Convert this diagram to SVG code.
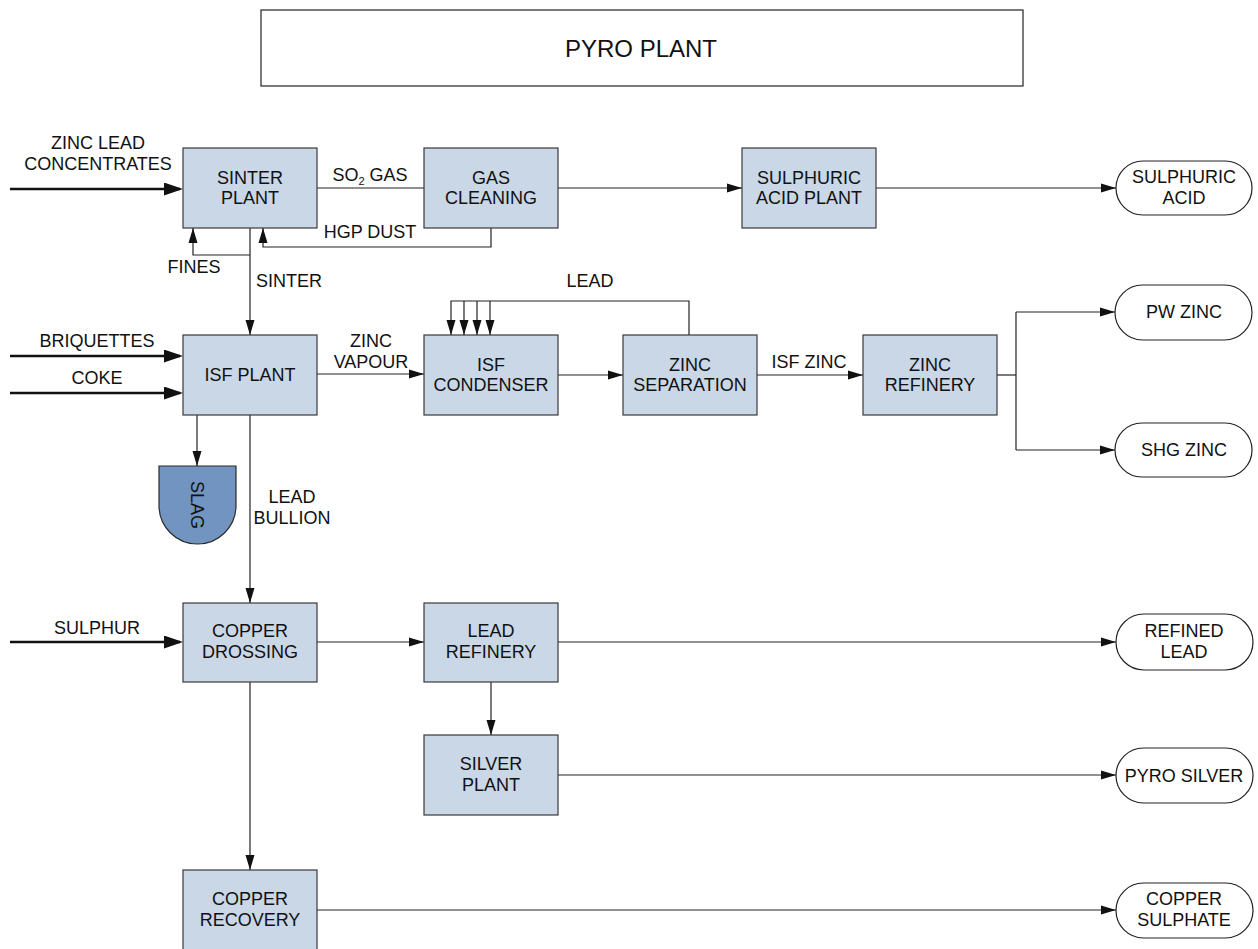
<svg xmlns="http://www.w3.org/2000/svg" width="1258" height="949" viewBox="0 0 1258 949">
<style>
text{font-family:"Liberation Sans",Arial,sans-serif;font-size:18px;fill:#111;text-anchor:middle}
.box{fill:#c9d7e7;stroke:#3a3a3a;stroke-width:1.2}
.term{fill:#fff;stroke:#222;stroke-width:1.2}
.ln{fill:none;stroke:#222;stroke-width:1.2}
.thick{fill:none;stroke:#111;stroke-width:2.5}
.arr{marker-end:url(#ah)}
.tarr{marker-end:url(#ahk)}
</style>
<defs>
<marker id="ah" markerUnits="userSpaceOnUse" markerWidth="15" markerHeight="10" refX="15" refY="5" orient="auto"><path d="M0,0.5 L15,5 L0,9.5 z" fill="#111"/></marker>
<marker id="ahk" markerUnits="userSpaceOnUse" markerWidth="19" markerHeight="13" refX="16" refY="6.5" orient="auto"><path d="M0,0 L19,6.5 L0,13 z" fill="#111"/></marker>
</defs>
<rect width="1258" height="949" fill="#fff"/>

<g id="title">
<rect x="261" y="10" width="762" height="76" fill="#fff" stroke="#222" stroke-width="1.2"/>
<text x="641" y="57" style="font-size:24px">PYRO PLANT</text>
</g>

<g id="connectors">
<line class="thick tarr" x1="10" y1="189" x2="180" y2="189"/>
<line class="ln" x1="317" y1="188" x2="424" y2="188"/>
<line class="ln arr" x1="558" y1="188" x2="742" y2="188"/>
<line class="ln arr" x1="876" y1="188" x2="1116" y2="188"/>
<polyline class="ln arr" points="491,228 491,247 263,247 263,228"/>
<line class="ln arr" x1="250" y1="228" x2="250" y2="335"/>
<polyline class="ln arr" points="250,255 193,255 193,228"/>
<line class="thick tarr" x1="10" y1="356" x2="180" y2="356"/>
<line class="thick tarr" x1="10" y1="393" x2="180" y2="393"/>
<line class="ln arr" x1="317" y1="374" x2="424" y2="374"/>
<line class="ln arr" x1="558" y1="375" x2="623" y2="375"/>
<polyline class="ln arr" points="689,335 689,301 451,301 451,335"/>
<line class="ln arr" x1="464" y1="301" x2="464" y2="335"/>
<line class="ln arr" x1="477" y1="301" x2="477" y2="335"/>
<line class="ln arr" x1="490" y1="301" x2="490" y2="335"/>
<line class="ln arr" x1="757" y1="375" x2="863" y2="375"/>
<line class="ln" x1="997" y1="375" x2="1016" y2="375"/>
<line class="ln" x1="1016" y1="312" x2="1016" y2="450"/>
<line class="ln arr" x1="1016" y1="312" x2="1115" y2="312"/>
<line class="ln arr" x1="1016" y1="450" x2="1115" y2="450"/>
<line class="ln arr" x1="197" y1="415" x2="197" y2="466"/>
<line class="ln arr" x1="250" y1="415" x2="250" y2="603"/>
<line class="thick tarr" x1="10" y1="642" x2="180" y2="642"/>
<line class="ln arr" x1="317" y1="642" x2="424" y2="642"/>
<line class="ln arr" x1="558" y1="642" x2="1116" y2="642"/>
<line class="ln arr" x1="491" y1="682" x2="491" y2="735"/>
<line class="ln arr" x1="558" y1="775" x2="1116" y2="775"/>
<line class="ln arr" x1="250" y1="682" x2="250" y2="870"/>
<line class="ln arr" x1="317" y1="910" x2="1116" y2="910"/>
</g>

<g id="labels">
<text x="98" y="149">ZINC LEAD</text>
<text x="98" y="170">CONCENTRATES</text>
<text x="370" y="181">SO<tspan style="font-size:11px" dy="4">2</tspan><tspan dy="-4"> GAS</tspan></text>
<text x="370" y="238">HGP DUST</text>
<text x="194" y="273">FINES</text>
<text x="289" y="287">SINTER</text>
<text x="97" y="347">BRIQUETTES</text>
<text x="97" y="384">COKE</text>
<text x="371" y="347">ZINC</text>
<text x="371" y="368">VAPOUR</text>
<text x="590" y="287">LEAD</text>
<text x="809" y="368">ISF ZINC</text>
<text x="292" y="503">LEAD</text>
<text x="292" y="524">BULLION</text>
<text x="97" y="634">SULPHUR</text>
</g>

<g id="sinter-plant"><rect class="box" x="183" y="148" width="134" height="80"/><text x="250" y="184">SINTER</text><text x="250" y="204">PLANT</text></g>
<g id="gas-cleaning"><rect class="box" x="424" y="148" width="134" height="80"/><text x="491" y="184">GAS</text><text x="491" y="204">CLEANING</text></g>
<g id="sulphuric-acid-plant"><rect class="box" x="742" y="148" width="134" height="80"/><text x="809" y="184">SULPHURIC</text><text x="809" y="204">ACID PLANT</text></g>
<g id="sulphuric-acid"><rect class="term" x="1116" y="161" width="136" height="54" rx="27"/><text x="1184" y="183">SULPHURIC</text><text x="1184" y="204">ACID</text></g>

<g id="isf-plant"><rect class="box" x="183" y="335" width="134" height="80"/><text x="250" y="381">ISF PLANT</text></g>
<g id="isf-condenser"><rect class="box" x="424" y="335" width="134" height="80"/><text x="491" y="371">ISF</text><text x="491" y="391">CONDENSER</text></g>
<g id="zinc-separation"><rect class="box" x="623" y="335" width="134" height="80"/><text x="690" y="371">ZINC</text><text x="690" y="391">SEPARATION</text></g>
<g id="zinc-refinery"><rect class="box" x="863" y="335" width="134" height="80"/><text x="930" y="371">ZINC</text><text x="930" y="391">REFINERY</text></g>
<g id="pw-zinc"><rect class="term" x="1115" y="285" width="137" height="55" rx="27.5"/><text x="1184" y="318">PW ZINC</text></g>
<g id="shg-zinc"><rect class="term" x="1115" y="423" width="137" height="54" rx="27"/><text x="1184" y="456">SHG ZINC</text></g>

<g id="slag">
<path d="M159,466 H236 V505.5 A38.5,38.5 0 0 1 159,505.5 Z" fill="#7294c0" stroke="#2a2a2a" stroke-width="1.2"/>
<text x="197" y="505" transform="rotate(90 197 505)" dy="6">SLAG</text>
</g>

<g id="copper-drossing"><rect class="box" x="183" y="603" width="134" height="79"/><text x="250" y="637">COPPER</text><text x="250" y="658">DROSSING</text></g>
<g id="lead-refinery"><rect class="box" x="424" y="603" width="134" height="79"/><text x="491" y="637">LEAD</text><text x="491" y="658">REFINERY</text></g>
<g id="refined-lead"><rect class="term" x="1116" y="614" width="137" height="56" rx="28"/><text x="1184" y="637">REFINED</text><text x="1184" y="658">LEAD</text></g>
<g id="silver-plant"><rect class="box" x="424" y="735" width="134" height="80"/><text x="491" y="770">SILVER</text><text x="491" y="791">PLANT</text></g>
<g id="pyro-silver"><rect class="term" x="1116" y="748" width="137" height="55" rx="27.5"/><text x="1184" y="782">PYRO SILVER</text></g>
<g id="copper-recovery"><rect class="box" x="183" y="870" width="134" height="82"/><text x="250" y="905">COPPER</text><text x="250" y="926">RECOVERY</text></g>
<g id="copper-sulphate"><rect class="term" x="1116" y="883" width="137" height="55" rx="27.5"/><text x="1184" y="905">COPPER</text><text x="1184" y="926">SULPHATE</text></g>
</svg>
